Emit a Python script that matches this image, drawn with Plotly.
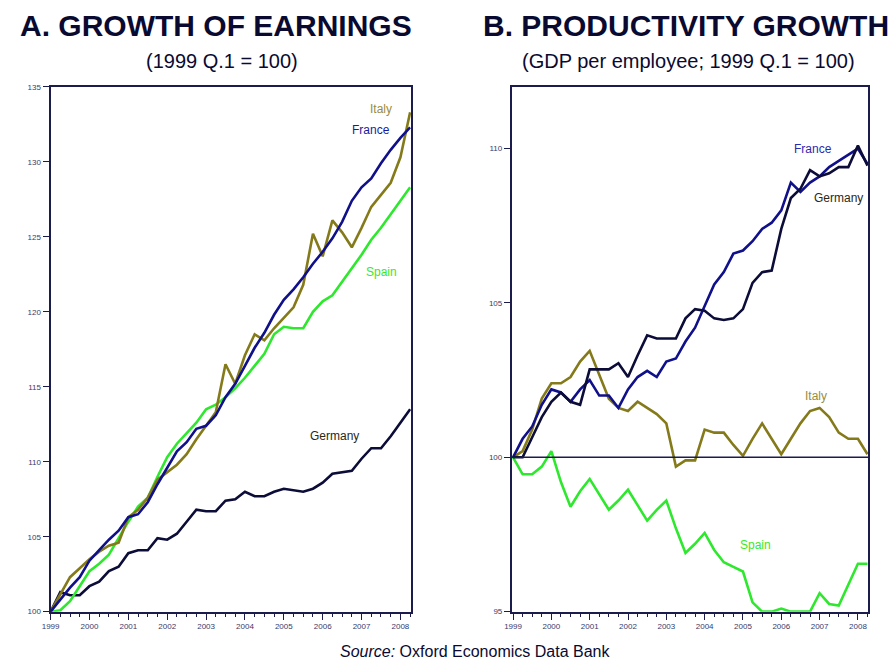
import plotly.graph_objects as go

# ---- data (quarters 1999Q1 .. 2008Q2) ----
quarters = [1999 + i * 0.25 for i in range(38)]
year_ticks = [1999, 2000, 2001, 2002, 2003, 2004, 2005, 2006, 2007, 2008]
year_labels = ["1999", "2000", "2001", "2002", "2003", "2004", "2005", "2006", "2007", "2008"]

# Panel A: growth of earnings (1999 Q1 = 100)
earn_france = [100.0, 100.8, 101.6, 102.3, 103.4, 104.1, 104.8, 105.4, 106.3, 106.5,
               107.3, 108.5, 109.6, 110.7, 111.3, 112.2, 112.4, 113.1, 114.3, 115.2,
               116.4, 117.6, 118.6, 119.8, 120.8, 121.5, 122.3, 123.2, 124.0, 124.9,
               126.0, 127.4, 128.3, 128.9, 129.9, 130.8, 131.6, 132.3]
earn_italy = [100.0, 101.2, 102.3, 102.9, 103.5, 104.0, 104.4, 104.6, 106.3, 106.8,
              107.6, 108.8, 109.3, 109.8, 110.5, 111.5, 112.4, 113.3, 116.5, 115.2,
              117.1, 118.5, 118.1, 118.9, 119.6, 120.3, 121.8, 125.2, 123.7, 126.1,
              125.3, 124.3, 125.6, 127.0, 127.8, 128.6, 130.3, 133.3]
earn_spain = [100.0, 100.1, 100.7, 101.7, 102.7, 103.2, 103.8, 104.9, 106.0, 107.0,
              107.6, 109.0, 110.3, 111.2, 111.9, 112.6, 113.5, 113.8, 114.3, 114.9,
              115.6, 116.4, 117.2, 118.5, 119.0, 118.9, 118.9, 120.0, 120.7, 121.1,
              122.0, 122.9, 123.8, 124.8, 125.6, 126.5, 127.4, 128.3]
earn_germany = [100.0, 101.3, 101.1, 101.1, 101.7, 102.0, 102.7, 103.0, 103.9, 104.1,
                104.1, 104.9, 104.8, 105.2, 106.0, 106.8, 106.7, 106.7, 107.4, 107.5,
                108.0, 107.7, 107.7, 108.0, 108.2, 108.1, 108.0, 108.2, 108.6, 109.2,
                109.3, 109.4, 110.2, 110.9, 110.9, 111.7, 112.6, 113.5]

# Panel B: productivity growth (GDP per employee, 1999 Q1 = 100)
prod_france = [100.0, 100.6, 101.0, 101.7, 102.2, 102.1, 101.8, 102.2, 102.5, 102.0,
               102.0, 101.6, 102.2, 102.6, 102.8, 102.6, 103.1, 103.2, 103.75, 104.2,
               104.9, 105.6, 106.0, 106.6, 106.7, 107.0, 107.4, 107.6, 108.0, 108.9,
               108.6, 108.9, 109.1, 109.4, 109.6, 109.8, 110.0, 109.5]
prod_germany = [100.0, 100.0, 100.65, 101.3, 101.8, 102.1, 101.8, 101.7, 102.85, 102.85,
                102.85, 103.05, 102.6, 103.3, 103.95, 103.85, 103.85, 103.85, 104.5, 104.8,
                104.75, 104.5, 104.45, 104.5, 104.8, 105.65, 106.0, 106.05, 107.4, 108.4,
                108.7, 109.3, 109.1, 109.2, 109.4, 109.4, 110.1, 109.45]
prod_italy = [100.0, 100.2, 100.9, 101.9, 102.4, 102.4, 102.6, 103.1, 103.45, 102.7,
              101.9, 101.6, 101.5, 101.8, 101.6, 101.4, 101.1, 99.7, 99.9, 99.9,
              100.9, 100.8, 100.8, 100.4, 100.05, 100.6, 101.1, 100.6, 100.1, 100.6,
              101.1, 101.5, 101.6, 101.3, 100.8, 100.6, 100.6, 100.1]
prod_spain = [100.0, 99.45, 99.45, 99.7, 100.2, 99.2, 98.4, 98.9, 99.3, 98.8,
              98.3, 98.6, 98.95, 98.45, 97.95, 98.3, 98.6, 97.7, 96.9, 97.2,
              97.55, 97.0, 96.6, 96.45, 96.3, 95.3, 95.0, 95.0, 95.1, 95.0,
              95.0, 95.0, 95.6, 95.25, 95.2, 95.9, 96.55, 96.55]

# ---- styling ----
C_FRANCE = "#10108a"
C_GERMANY = "#0c0c38"
C_ITALY = "#857a1a"
C_SPAIN = "#2ee82e"
FRAME = "#1c1c4c"
LW = 2.6

fig = go.Figure()

def add(x, y, color, xa, ya):
    fig.add_trace(go.Scatter(x=x, y=y, mode="lines", line=dict(color=color, width=LW),
                             xaxis=xa, yaxis=ya, showlegend=False, hoverinfo="skip"))

add(quarters, earn_germany, C_GERMANY, "x", "y")
add(quarters, earn_spain, C_SPAIN, "x", "y")
add(quarters, earn_italy, C_ITALY, "x", "y")
add(quarters, earn_france, C_FRANCE, "x", "y")

add(quarters, prod_spain, C_SPAIN, "x2", "y2")
add(quarters, prod_italy, C_ITALY, "x2", "y2")
add(quarters, prod_france, C_FRANCE, "x2", "y2")
add(quarters, prod_germany, C_GERMANY, "x2", "y2")

tickfont = dict(family="Liberation Sans, Arial, sans-serif", size=8, color="#3a3a6a")

xcommon = dict(showline=True, linecolor=FRAME, linewidth=2, mirror=True, showgrid=False,
               zeroline=False, ticks="outside", ticklen=6, tickwidth=1, tickcolor=FRAME,
               tickvals=year_ticks, ticktext=year_labels, tickfont=tickfont,
               minor=dict(ticks="outside", ticklen=3, tickcolor=FRAME, dtick=0.25, tick0=1999,
                          showgrid=False))
ycommon = dict(showline=True, linecolor=FRAME, linewidth=2, mirror=True, showgrid=False,
               zeroline=False, ticks="outside", ticklen=6, tickwidth=1, tickcolor=FRAME,
               tickfont=tickfont)

y_dom = [1 - 616 / 666, 1 - 84 / 666]

fig.update_layout(
    width=895, height=666,
    margin=dict(l=0, r=0, t=0, b=0),
    paper_bgcolor="white", plot_bgcolor="white",
    xaxis=dict(domain=[42 / 895, 406 / 895], range=[1999, 2008.27], anchor="y", **xcommon),
    yaxis=dict(domain=y_dom, range=[100, 135], dtick=5, anchor="x", **ycommon),
    xaxis2=dict(domain=[508 / 895, 868 / 895], range=[1998.97, 2008.27], anchor="y2", **xcommon),
    yaxis2=dict(domain=y_dom, range=[95, 112], tickvals=[95, 100, 105, 110], anchor="x2", **ycommon),
)

# reference line at 100 in panel B
fig.add_shape(type="line", xref="x2 domain", yref="y2", x0=0, x1=1, y0=100, y1=100,
              line=dict(color=FRAME, width=1.5))

title_font = dict(family="Liberation Sans, Arial, sans-serif", size=30, color="#0a0a30")
sub_font = dict(family="Liberation Sans, Arial, sans-serif", size=20, color="#0a0a30")

ann = [
    dict(text="<b>A. GROWTH OF EARNINGS</b>", x=9 / 895, y=1 - 22 / 666, xanchor="left",
         yanchor="middle", font=title_font),
    dict(text="(1999 Q.1 = 100)", x=215 / 895, y=1 - 58 / 666, xanchor="center",
         yanchor="middle", font=sub_font),
    dict(text="<b>B. PRODUCTIVITY GROWTH</b>", x=477 / 895, y=1 - 22 / 666, xanchor="left",
         yanchor="middle", font=title_font),
    dict(text="(GDP per employee; 1999 Q.1 = 100)", x=686 / 895, y=1 - 58 / 666,
         xanchor="center", yanchor="middle", font=sub_font),
    dict(text="<i>Source:</i> Oxford Economics Data Bank", x=471 / 895, y=1 - 656 / 666,
         xanchor="center", yanchor="middle",
         font=dict(family="Liberation Sans, Arial, sans-serif", size=16, color="#0a0a30")),
]
for a in ann:
    a.update(xref="paper", yref="paper", showarrow=False)
    fig.add_annotation(**a)

lab_font = "Liberation Sans, Arial, sans-serif"
labels = [
    ("Italy", 2007.49, 133.55, "#9a8c3c", "x", "y"),
    ("France", 2007.24, 132.1, "#1a1a9a", "x", "y"),
    ("Spain", 2007.51, 122.68, "#3ae82a", "x", "y"),
    ("Germany", 2006.30, 111.73, "#2a2818", "x", "y"),
    ("France", 2006.83, 110.0, "#2a2ab0", "x2", "y2"),
    ("Germany", 2007.48, 108.39, "#2a2818", "x2", "y2"),
    ("Italy", 2006.91, 102.0, "#9a8c3c", "x2", "y2"),
    ("Spain", 2005.33, 97.15, "#3ae82a", "x2", "y2"),
]
for t, x, y, c, xa, ya in labels:
    fig.add_annotation(text=t, x=x, y=y, xref=xa, yref=ya, showarrow=False,
                       font=dict(family=lab_font, size=12, color=c))

fig.write_html("out.html", config={"displayModeBar": False},
               post_script="document.body.style.margin='0';")
